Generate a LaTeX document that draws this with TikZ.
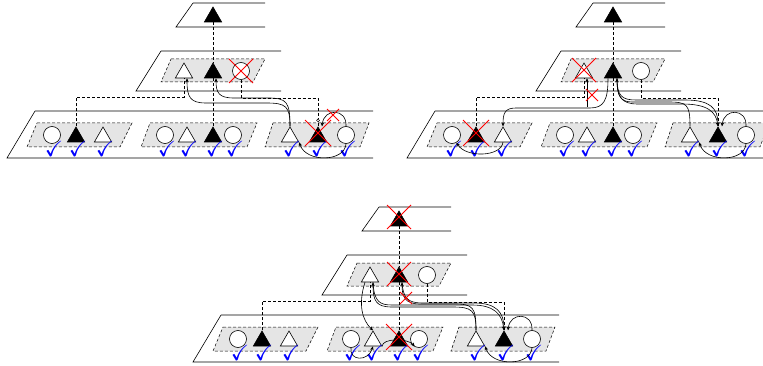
\documentclass[tikz,border=0pt]{standalone}
\usepackage{amssymb}
\usetikzlibrary{shapes.geometric,arrows.meta}
\pgfdeclarelayer{background}
\pgfsetlayers{background,main}
\tikzset{
  layerline/.style={line width=0.6pt},
  grp/.style={draw, dash pattern=on 3pt off 2pt, fill=gray!20, line width=0.5pt},
  tri/.style={regular polygon, regular polygon sides=3, minimum size=20pt, inner sep=0pt, draw, line width=0.6pt, fill=white},
  ftri/.style={tri, fill=black},
  circ/.style={circle, minimum size=17pt, inner sep=0pt, draw, line width=0.6pt, fill=white},
  lnk/.style={dash pattern=on 3pt off 2pt, line width=0.5pt},
  arr/.style={-{Stealth[length=4pt,width=3.5pt]}, line width=0.6pt},
  redx/.style={red, line width=1pt},
  chk/.style={text=blue, inner sep=0pt, font=\fontsize{22}{22}\selectfont},
}
\newcommand\redX[2]{\draw[redx] (#1) ++(-#2,-#2) -- ++(2*#2,2*#2) ++(-2*#2,0) -- ++(2*#2,-2*#2);}
\newcommand\panelbase{%
  \node[ftri] (T) at (213,17) {};
  \node[tri] (mA) at (184,73) {};
  \node[ftri] (mF) at (213,73) {};
  \node[circ] (mC) at (241,71) {};
  \node[circ] (g1C) at (52,135) {};
  \node[ftri] (g1F) at (76,137) {};
  \node[tri] (g1A) at (103,137) {};
  \node[circ] (g2C) at (165,135) {};
  \node[tri] (g2A) at (187,137) {};
  \node[ftri] (g2F) at (213,137) {};
  \node[circ] (g2D) at (233,135) {};
  \node[tri] (g3A) at (290,137) {};
  \node[ftri] (g3F) at (318,137) {};
  \node[circ] (g3C) at (346,135) {};
  \begin{pgfonlayer}{background}
    \draw[layerline] (193,3)--(265,3) (265,27)--(176,27)--(193,3);
    \draw[layerline] (161,51)--(281,51) (281,91)--(136,91)--(161,51);
    \draw[layerline] (35,111)--(373,111) (373,158)--(7,158)--(35,111);
    \draw[grp] (171,59)--(265,59)--(253,82)--(161,82)--cycle;
    \draw[grp] (37,123)--(132,123)--(120,147)--(27,147)--cycle;
    \draw[grp] (150,123)--(257,123)--(247,147)--(141,147)--cycle;
    \draw[grp] (273,123)--(369,123)--(360,147)--(265,147)--cycle;
    \draw[lnk] (T.south) -- (mF.north);
    \draw[lnk] (mF.south) -- (g2F.north);
    \draw[lnk] (g1F.north) -- ++(0,-29) -| (mA.south);
    \draw[lnk] (mC.south) -- ++(0,18.5) -| (g3F.north);
  \end{pgfonlayer}
  \foreach \n in {g1C,g1F,g1A,g2C,g2A,g2F,g2D,g3A,g3F,g3C}
    {\node[chk, xshift=2pt] at (\n.center |- 0,149) {$\checkmark$};}
}
\begin{document}
\begin{tikzpicture}[x=1pt,y=-1pt]
\useasboundingbox (0,0) rectangle (763,366);
% ---------- panel 1
\begin{scope}[name prefix=p1-]
  \panelbase
  \draw[arr] (g3A.north) .. controls (290,106) and (286,103) .. (266,103) -- (206,103) .. controls (190,103) and (187,97) .. ([xshift=3pt]mA.south);
  \draw[arr] (g3A.north) .. controls (290,102) and (287,98) .. (268,98) -- (234,98) .. controls (219,98) and (216,93) .. ([xshift=3pt]mF.south);
  \draw[arr] (g3C.south) .. controls (345,162) and (306,163) .. (g3A.corner 3);
  \draw[arr] (g3C.north) .. controls (347,108) and (324,108) .. ([xshift=4pt]g3F.north);
  \draw[line width=0.5pt, fill=white] ([yshift=6pt]g3F.north) circle (1.5);
  \redX{mC}{12}
  \redX{[yshift=4pt]g3F}{13}
  \redX{333,115}{6}
\end{scope}
% ---------- panel 2
\begin{scope}[shift={(400,0)}, name prefix=p2-]
  \panelbase
  \draw[arr] (187,107) -- ([xshift=3pt]mA.south);
  \draw[arr] ([xshift=-5pt]mF.south) .. controls (208,100) and (204,108) .. (190,108) -- (116,108) .. controls (105,108) and (103,113) .. (g1A.north);
  \draw[arr] (g1A.south) .. controls (101,157) and (66,158) .. (g1C.-60);
  \draw[arr] (g3A.north) .. controls (290,104) and (287,102) .. (268,102) -- (232,102) .. controls (220,102) and (217,95) .. ([xshift=4pt]mF.south);
  \draw[arr] ([xshift=4pt]mF.south) .. controls (217,96) and (222,100) .. (236,100) -- (285,100) .. controls (310,100) and (318,108) .. (g3F.north);
  \draw[arr] ([xshift=4pt]mF.south) .. controls (217,98) and (222,104) .. (238,104) -- (282,104) .. controls (308,104) and (316,112) .. (g3F.north);
  \draw[arr] (g3C.south) .. controls (345,162) and (306,163) .. (g3A.corner 3);
  \draw[arr] (g3C.north) .. controls (347,108) and (324,108) .. ([xshift=4pt]g3F.north);
  \redX{[yshift=3pt]mA}{12}
  \redX{[yshift=4pt]g1F}{13}
  \redX{192,95}{6}
\end{scope}
% ---------- panel 3
\begin{scope}[shift={(186,204)}, name prefix=p3-]
  \panelbase
  \draw[arr] ([xshift=-5pt]mA.south) .. controls (172,100) and (176,116) .. (g2A.north);
  \draw[arr] (g3A.north) .. controls (290,106) and (286,103) .. (266,103) -- (206,103) .. controls (190,103) and (187,97) .. ([xshift=3pt]mA.south);
  \draw[arr] (g3A.north) .. controls (290,103) and (287,100) .. (268,100) -- (234,100) .. controls (219,100) and (216,93) .. ([xshift=3pt]mF.south);
  \draw[arr] ([xshift=3pt]mF.south) .. controls (217,94) and (222,99) .. (236,99) -- (288,99) .. controls (310,99) and (318,108) .. (g3F.north);
  \draw[arr] ([xshift=3pt]mA.south) .. controls (188,98) and (194,101) .. (206,101) -- (286,101) .. controls (308,101) and (316,110) .. (g3F.north);
  \draw[arr] (g3C.south) .. controls (345,162) and (306,163) .. (g3A.corner 3);
  \draw[arr] (g3C.north) .. controls (347,108) and (324,108) .. ([xshift=4pt]g3F.north);
  \draw[arr] (g2C.south) .. controls (163,157) and (182,158) .. (g2A.south);
  \draw[arr] (g2A.corner 3) .. controls (196,134) and (222,134) .. (g2D.-120);
  \redX{[yshift=4pt]T}{12}
  \redX{[yshift=3pt]mF}{12}
  \redX{[yshift=4pt]g2F}{13}
  \redX{220,94}{6}
\end{scope}
\end{tikzpicture}
\end{document}
